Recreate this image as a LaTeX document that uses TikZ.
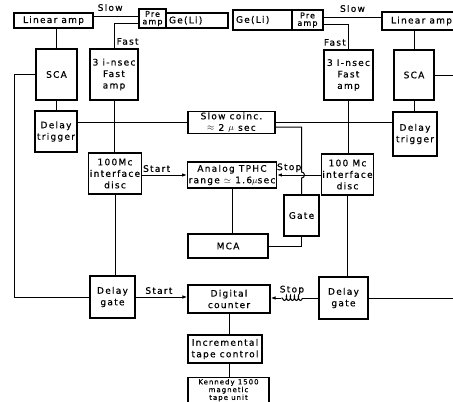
\documentclass[tikz,border=0pt]{standalone}
\usepackage{fontspec}
\usepackage{tikz}
\usetikzlibrary{arrows.meta,decorations.pathmorphing}
\newfontfamily\lblfont[LetterSpace=14,FakeBold=0.6]{DejaVu Sans}
\newcommand{\lbl}{\lblfont\fontsize{9}{11.5}\selectfont}
\newcommand{\lbls}{\lblfont\fontsize{8}{7.5}\selectfont}
\newcommand{\lblk}{\lblfont\fontsize{7}{6.5}\selectfont}
\tikzset{
  blk/.style={draw, line width=1.1pt, inner sep=1pt, align=center, font=\lbl},
  wire/.style={line width=1pt},
  sig/.style={wire, -{Latex[length=5pt,width=3.5pt]}},
  tag/.style={font=\lbl, inner sep=0.5pt},
}

\begin{document}
\begin{tikzpicture}[x=1pt,y=-1pt]
%%Frame
\useasboundingbox (0,0) rectangle (453,402);
\clip (0,0) rectangle (453,402);
\coordinate (rimL) at (14,0);
\coordinate (rimR) at (453,0);
%%Left detector
\node[blk, minimum width=79, minimum height=15] (linL) at (53.5,20.5) {Linear amp};
\node[blk, font=\lbls, inner sep=0.5pt, minimum width=27, minimum height=19] (preL) at (152.5,18.5) {Pre\\amp};
\node[blk, text width=56pt, align=left, minimum width=62, minimum height=15] (geL) at (197,20.5) {Ge(Li)};
\node[blk, minimum width=48, minimum height=51] (fastL) at (114,74.5) {3 i-nsec\\Fast\\amp};
\node[blk, minimum width=41, minimum height=51] (scaL) at (56.5,74.5) {SCA};
\node[blk, minimum width=42, minimum height=41] (dtrL) at (56,131.5) {Delay\\trigger};
\node[blk, minimum width=44, minimum height=41] (ifL) at (115,173.5) {100Mc\\interface\\disc};
\node[blk, minimum width=45, minimum height=42] (dgL) at (112.5,297) {Delay\\gate};
%%Right detector
\node[blk, text width=53pt, align=left, minimum width=59, minimum height=20] (geR) at (262.5,20) {Ge(Li)};
\node[blk, font=\lbls, inner sep=0.5pt, minimum width=31, minimum height=20] (preR) at (307.5,20) {Pre\\amp};
\node[blk, minimum width=79, minimum height=18] (linR) at (421.5,21) {Linear amp};
\node[blk, minimum width=49, minimum height=50] (fastR) at (348.5,75) {3 I-nsec\\Fast\\amp};
\node[blk, minimum width=40, minimum height=50] (scaR) at (414,75) {SCA};
\node[blk, minimum width=44, minimum height=44] (dtrR) at (415,134) {Delay\\trigger};
\node[blk, minimum width=49, minimum height=41] (ifR) at (347.5,174.5) {100 Mc\\interface\\disc};
\node[blk, minimum width=49, minimum height=42] (dgR) at (343.5,298) {Delay\\gate};
%%Middle
\node[blk, minimum width=87, minimum height=21] (coinc) at (231.5,122.5) {Slow coinc.\\$\approx$ 2 $\mu$ sec};
\node[blk, minimum width=88, minimum height=26] (tphc) at (232,175) {Analog TPHC\\range $\simeq$ 1.6$\mu$sec};
\node[blk, minimum width=35, minimum height=41] (gate) at (301.5,215.5) {Gate};
\node[blk, minimum width=80, minimum height=24] (mca) at (228,246) {MCA};
\node[blk, minimum width=82, minimum height=28] (cnt) at (229,299) {Digital\\counter};
\node[blk, minimum width=74, minimum height=28] (tape) at (225,349) {Incremental\\tape control};
\node[blk, font=\lblk, inner ysep=1.5pt, minimum width=81, anchor=north] (ken) at (228.5,377) {Kennedy 1500\\magnetic\\tape unit};
%%Left lines
\draw[wire] ([yshift=4.5pt]linL.east) -- node[tag, above=4pt, pos=0.37] (slowL) {Slow} ([yshift=4.5pt]linL.east -| preL.west);
\draw[wire] ([yshift=-4.5pt]preL.west) -| (fastL.north);
\node[tag, anchor=south west] (fastTL) at ([xshift=2pt,yshift=3pt]fastL.north) {Fast};
\draw[wire] (scaL.north |- linL.south) -- (scaL.north);
\draw[wire] (scaL.south) -- (scaL.south |- dtrL.north);
\draw[wire] (scaL.west) -- (scaL.west -| rimL) |- (dgL.west);
\draw[wire] (coinc.west) -- (coinc.west -| dtrL.east);
\draw[wire] (fastL.south) -- (fastL.south |- ifL.north);
\draw[wire] (ifL.south) -- (ifL.south |- dgL.north);
\draw[sig] (ifL.east |- tphc.west) -- node[tag, above=2pt, pos=0.33] (startA) {Start} (tphc.west);
\draw[sig] (dgL.east) -- node[tag, above=2pt, pos=0.45] (startB) {Start} (dgL.east -| cnt.west);
%%Right lines
\draw[wire] ([yshift=3pt]preR.east) -- node[tag, above=4pt] (slowR) {Slow} ([yshift=3pt]preR.east -| linR.west);
\draw[wire] ([yshift=-4pt]preR.east) -| (fastR.north);
\node[tag, anchor=south east] (fastTR) at ([xshift=-2pt,yshift=3pt]fastR.north) {Fast};
\draw[wire] (scaR.north |- linR.south) -- (scaR.north);
\draw[wire] (scaR.south) -- (scaR.south |- dtrR.north);
\draw[wire] (scaR.east) -- (scaR.east -| rimR);
\draw[wire] (coinc.east) -- (coinc.east -| dtrR.west);
\draw[wire] (fastR.south) -- (fastR.south |- ifR.north);
\draw[wire] (ifR.south) -- (ifR.south |- dgR.north);
\draw[wire] (dgR.east) -- (dgR.east -| rimR);
%%Coincidence, gate and stop
\coordinate (hopX) at (gate.north |- tphc.east);
\draw[wire] ([yshift=-4.5pt]coinc.east) -| ([yshift=3pt]hopX) arc[start angle=90, end angle=-90, radius=3pt] -- (gate.north);
\draw[sig] (ifR.west |- tphc.east) -- node[tag, above=2pt, pos=0.72] (stopA) {Stop} (tphc.east);
\draw[wire] (gate.south) |- (mca.east);
\draw[wire] (tphc.south) -- (tphc.south |- mca.north);
\draw[wire] (dgR.west) -- ++(-16,0) coordinate (coilA);
\draw[wire, decorate, decoration={coil, aspect=0.4, amplitude=2.5pt, segment length=4pt}] (coilA) -- ++(-21,0) coordinate (coilB);
\path (coilA) -- node[tag, above=3pt] (stopB) {Stop} (coilB);
\draw[sig] (coilB) -- (coilB -| cnt.east);
%%Recording
\draw[wire] (cnt.south) -- (cnt.south |- tape.north);
\draw[wire] (cnt.south |- tape.south) -- (cnt.south |- ken.north);
\end{tikzpicture}
\end{document}
